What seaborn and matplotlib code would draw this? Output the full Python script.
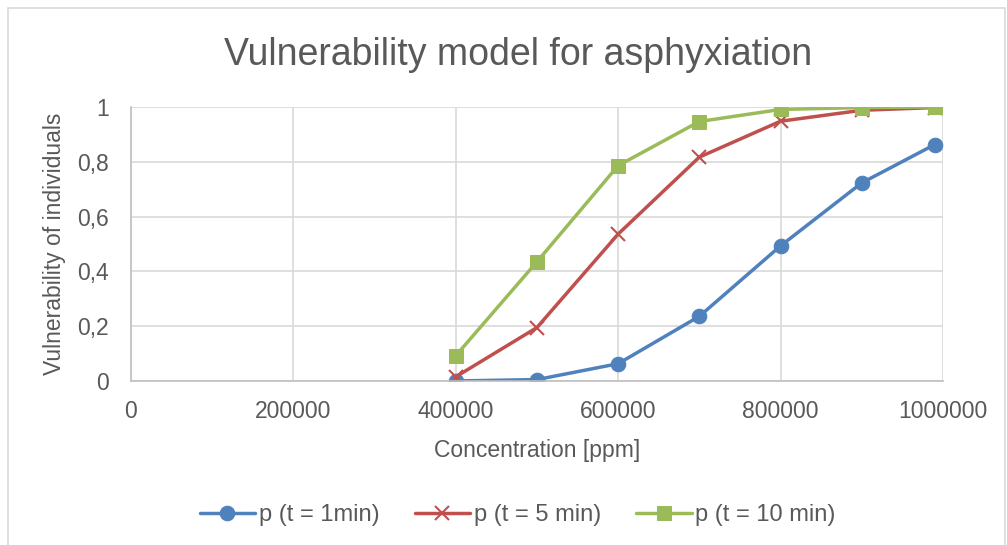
import matplotlib
matplotlib.use('Agg')
import matplotlib.pyplot as plt
import matplotlib.ticker as mticker
from matplotlib.patches import Rectangle
import pandas as pd
import seaborn as sns

# values
concentration = [400000, 500000, 600000, 700000, 800000, 900000, 990000]
p_1min = [0.0, 0.005, 0.063, 0.236, 0.493, 0.723, 0.863]
p_5min = [0.015, 0.195, 0.536, 0.817, 0.948, 0.988, 0.998]
p_10min = [0.092, 0.435, 0.786, 0.947, 0.991, 0.998, 1.0]
series_names = ['p (t = 1min)', 'p (t = 5 min)', 'p (t = 10 min)']
x_ticks = [0, 200000, 400000, 600000, 800000, 1000000]
y_ticks = [0, 0.2, 0.4, 0.6, 0.8, 1.0]

colors = ['#4F81BD', '#C0504D', '#9BBB59']
markers = ['o', 'x', 's']
text_color = '#595959'

df = pd.concat([
    pd.DataFrame({'x': concentration, 'y': vals, 'series': name})
    for name, vals in zip(series_names, [p_1min, p_5min, p_10min])
], ignore_index=True)

sns.set_style('white')
plt.rcParams['font.family'] = ['Liberation Sans', 'DejaVu Sans']

fig = plt.figure(figsize=(10.07, 5.45), dpi=100)
ax = fig.add_axes([0.130, 0.301, 0.8064, 0.5027])

for name, col, mk in zip(series_names, colors, markers):
    sub = df[df['series'] == name]
    if mk == 'x':
        kw = dict(marker='x', markersize=10, markeredgewidth=1.5, markeredgecolor=col)
    else:
        kw = dict(marker=mk, markersize=10.5, markeredgecolor=col, markerfacecolor=col)
    sns.lineplot(data=sub, x='x', y='y', ax=ax, color=col, linewidth=2.5,
                 label=name, **kw)

ax.set_xlim(0, 1000000)
ax.set_ylim(0, 1)
ax.set_xticks(x_ticks)
ax.set_yticks(y_ticks)
ax.xaxis.set_major_formatter(mticker.FuncFormatter(lambda v, p: f'{int(round(v))}'))
ax.yaxis.set_major_formatter(mticker.FuncFormatter(
    lambda v, p: ('%g' % round(v, 1)).replace('.', ',')))
ax.grid(True, color='#D9D9D9', linewidth=1.2)
ax.set_axisbelow(True)
for side in ['top', 'right']:
    ax.spines[side].set_visible(False)
for side in ['left', 'bottom']:
    ax.spines[side].set_color('#BFBFBF')
    ax.spines[side].set_linewidth(1.2)
ax.tick_params(axis='both', length=0, labelsize=16.5, colors=text_color)
ax.tick_params(axis='x', pad=14)
ax.tick_params(axis='y', pad=16)

ax.set_xlabel('Concentration [ppm]', fontsize=16.5, color=text_color, labelpad=11)
ax.set_ylabel('Vulnerability of individuals', fontsize=16.5, color=text_color, labelpad=8)
fig.text(0.514, 0.881, 'Vulnerability model for asphyxiation', fontsize=27,
         color=text_color, ha='center', va='baseline')

handles, labels = ax.get_legend_handles_labels()
ax.legend(handles, labels, loc='center', bbox_to_anchor=(0.514, 0.055),
          bbox_transform=fig.transFigure, ncol=3, frameon=False, fontsize=17,
          labelcolor=text_color, handlelength=2.35, handletextpad=0.15,
          columnspacing=1.5)

# chart border like the spreadsheet frame
fig.patches.append(Rectangle((0.008, -0.05), 0.99, 1.035, transform=fig.transFigure,
                             fill=False, edgecolor='#D9D9D9', linewidth=1.2))

fig.savefig('out.png', dpi=100)
plt.close(fig)
